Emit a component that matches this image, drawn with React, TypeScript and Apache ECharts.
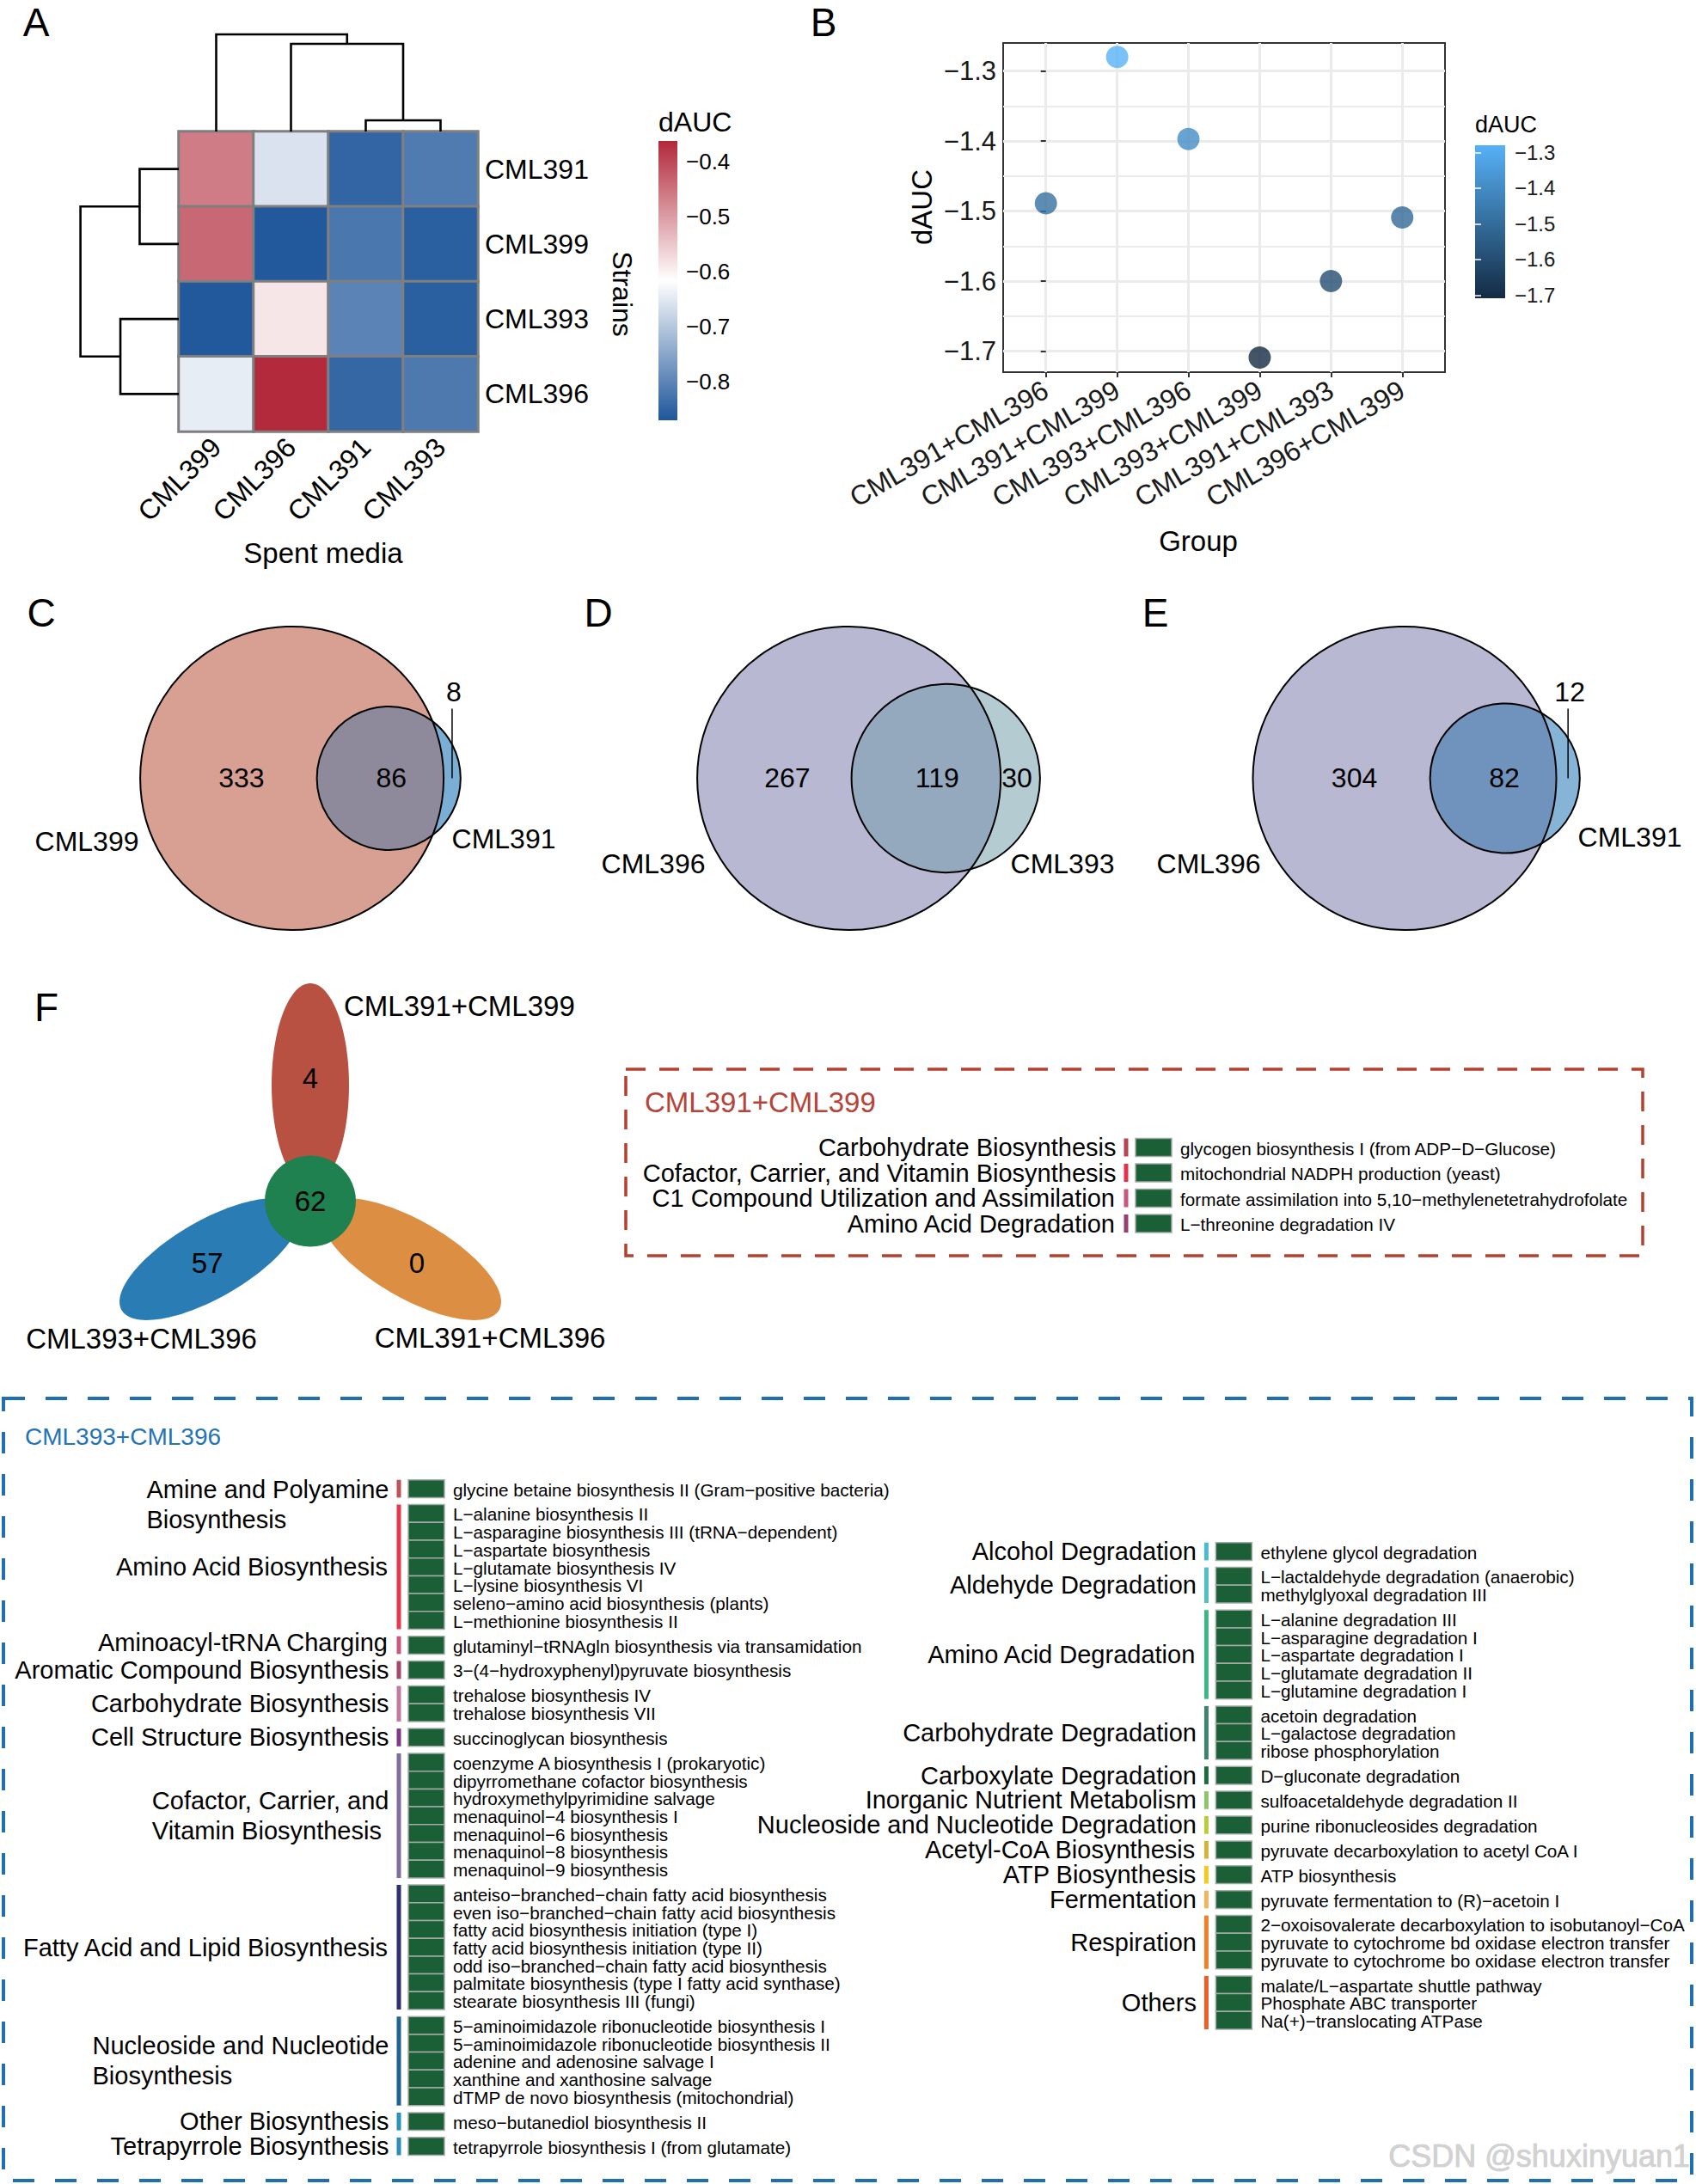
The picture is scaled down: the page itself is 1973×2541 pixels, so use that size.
import React, { useEffect, useRef } from 'react';
import * as echarts from 'echarts';

const W = 1973;
const H = 2541;
const FONT = '"Liberation Sans", Arial, Helvetica, sans-serif';
const MINUS = '\u2212';

// ---------------- Panel A : heatmap ----------------
const heatRows = ['CML391', 'CML399', 'CML393', 'CML396'];
const heatCols = ['CML399', 'CML396', 'CML391', 'CML393'];
const heatValues = [
  [-0.461, -0.660, -0.848, -0.815],
  [-0.438, -0.868, -0.822, -0.858],
  [-0.868, -0.587, -0.803, -0.858],
  [-0.644, -0.364, -0.845, -0.819],
];
const heatRange = [-0.871, -0.362];
const heatColors = ['#1F569B', '#FFFFFF', '#B2283A'];
const heatLegendTicks = [-0.8, -0.7, -0.6, -0.5, -0.4];
// hclust-style merges: negative = leaf (1-based), positive = earlier merge (1-based)
const colMerges = [[-3, -4, 0.115], [-2, 1, 0.903], [-1, 2, 1.0]];
const rowMerges = [[-1, -2, 0.398], [-3, -4, 0.594], [1, 2, 1.0]];

// ---------------- Panel B : scatter ----------------
const groupNames = ['CML391+CML396', 'CML391+CML399', 'CML393+CML396', 'CML393+CML399', 'CML391+CML393', 'CML396+CML399'];
const groupDAUC = [-1.489, -1.280, -1.397, -1.709, -1.600, -1.509];
const dAUCTicks = [-1.7, -1.6, -1.5, -1.4, -1.3];
const dAUCMinor = [-1.65, -1.55, -1.45, -1.35];
const dAUCColors = ['#132B43', '#56B1F7'];

// ---------------- Panels C-E : Venn ----------------
const vennNames = [['CML399', 'CML391'], ['CML396', 'CML393'], ['CML396', 'CML391']];
const vennCounts = [[333, 86, 8], [267, 119, 30], [304, 82, 12]]; // [big only, overlap, small only]
const vennFills = [
  ['#D8A093', '#8E8A9B', '#7AAED5'],
  ['#B8B8D3', '#95A9BE', '#B5CBD2'],
  ['#B8B8D3', '#6F93BC', '#86B4D6'],
];

// ---------------- Panel F : flower ----------------
const petalNames = ['CML391+CML399', 'CML393+CML396', 'CML391+CML396'];
const petalCounts = [4, 57, 0];
const coreCount = 62;
const petalColors = ['#B95142', '#2A7DB4', '#DC8F42'];
const coreColor = '#1F8150';

// ---------------- Tables ----------------
const redCategories = ['Carbohydrate Biosynthesis', 'Cofactor, Carrier, and Vitamin Biosynthesis', 'C1 Compound Utilization and Assimilation', 'Amino Acid Degradation'];
const redPathways = [
  ['glycogen biosynthesis I (from ADP\u2212D\u2212Glucose)'],
  ['mitochondrial NADPH production (yeast)'],
  ['formate assimilation into 5,10\u2212methylenetetrahydrofolate'],
  ['L\u2212threonine degradation IV'],
];
const redBarColors = ['#B84450', '#E6304A', '#C9577A', '#97406C'];

const leftCategories = [
  'Amine and Polyamine\nBiosynthesis',
  'Amino Acid Biosynthesis',
  'Aminoacyl-tRNA Charging',
  'Aromatic Compound Biosynthesis',
  'Carbohydrate Biosynthesis',
  'Cell Structure Biosynthesis',
  'Cofactor, Carrier, and\nVitamin Biosynthesis',
  'Fatty Acid and Lipid Biosynthesis',
  'Nucleoside and Nucleotide\nBiosynthesis',
  'Other Biosynthesis',
  'Tetrapyrrole Biosynthesis',
];
const leftPathways = [
  ['glycine betaine biosynthesis II (Gram\u2212positive bacteria)'],
  ['L\u2212alanine biosynthesis II', 'L\u2212asparagine biosynthesis III (tRNA\u2212dependent)', 'L\u2212aspartate biosynthesis', 'L\u2212glutamate biosynthesis IV', 'L\u2212lysine biosynthesis VI', 'seleno\u2212amino acid biosynthesis (plants)', 'L\u2212methionine biosynthesis II'],
  ['glutaminyl\u2212tRNAgln biosynthesis via transamidation'],
  ['3\u2212(4\u2212hydroxyphenyl)pyruvate biosynthesis'],
  ['trehalose biosynthesis IV', 'trehalose biosynthesis VII'],
  ['succinoglycan biosynthesis'],
  ['coenzyme A biosynthesis I (prokaryotic)', 'dipyrromethane cofactor biosynthesis', 'hydroxymethylpyrimidine salvage', 'menaquinol\u22124 biosynthesis I', 'menaquinol\u22126 biosynthesis', 'menaquinol\u22128 biosynthesis', 'menaquinol\u22129 biosynthesis'],
  ['anteiso\u2212branched\u2212chain fatty acid biosynthesis', 'even iso\u2212branched\u2212chain fatty acid biosynthesis', 'fatty acid biosynthesis initiation (type I)', 'fatty acid biosynthesis initiation (type II)', 'odd iso\u2212branched\u2212chain fatty acid biosynthesis', 'palmitate biosynthesis (type I fatty acid synthase)', 'stearate biosynthesis III (fungi)'],
  ['5\u2212aminoimidazole ribonucleotide biosynthesis I', '5\u2212aminoimidazole ribonucleotide biosynthesis II', 'adenine and adenosine salvage I', 'xanthine and xanthosine salvage', 'dTMP de novo biosynthesis (mitochondrial)'],
  ['meso\u2212butanediol biosynthesis II'],
  ['tetrapyrrole biosynthesis I (from glutamate)'],
];
const leftBarColors = ['#C0505A', '#E5394F', '#C9587A', '#A8456B', '#C37A9F', '#7D3A88', '#7F6DA0', '#2F2F72', '#1E6393', '#2993BD', '#2A8DBC'];

const rightCategories = ['Alcohol Degradation', 'Aldehyde Degradation', 'Amino Acid Degradation', 'Carbohydrate Degradation', 'Carboxylate Degradation', 'Inorganic Nutrient Metabolism', 'Nucleoside and Nucleotide Degradation', 'Acetyl-CoA Biosynthesis', 'ATP Biosynthesis', 'Fermentation', 'Respiration', 'Others'];
const rightPathways = [
  ['ethylene glycol degradation'],
  ['L\u2212lactaldehyde degradation (anaerobic)', 'methylglyoxal degradation III'],
  ['L\u2212alanine degradation III', 'L\u2212asparagine degradation I', 'L\u2212aspartate degradation I', 'L\u2212glutamate degradation II', 'L\u2212glutamine degradation I'],
  ['acetoin degradation', 'L\u2212galactose degradation', 'ribose phosphorylation'],
  ['D\u2212gluconate degradation'],
  ['sulfoacetaldehyde degradation II'],
  ['purine ribonucleosides degradation'],
  ['pyruvate decarboxylation to acetyl CoA I'],
  ['ATP biosynthesis'],
  ['pyruvate fermentation to (R)\u2212acetoin I'],
  ['2\u2212oxoisovalerate decarboxylation to isobutanoyl\u2212CoA', 'pyruvate to cytochrome bd oxidase electron transfer', 'pyruvate to cytochrome bo oxidase electron transfer'],
  ['malate/L\u2212aspartate shuttle pathway', 'Phosphate ABC transporter', 'Na(+)\u2212translocating ATPase'],
];
const rightBarColors = ['#4ABCD0', '#53BFC3', '#3DB584', '#3F8272', '#1E6A3E', '#8DC46A', '#BCCB3C', '#D1B53A', '#F5C922', '#F2B35E', '#EF7F2A', '#EB5E29'];

// ---------------- helpers ----------------
const fmt1 = (v: number) => v.toFixed(1).replace('-', MINUS);
const isTick = (v: number, step: number) => Math.abs(v / step - Math.round(v / step)) < 1e-6;

function dendro(merges: number[][]) {
  const pos: number[] = [];
  const hgt: number[] = [];
  const get = (k: number) => (k < 0 ? [-k - 1, 0] : [pos[k - 1], hgt[k - 1]]);
  return merges.map(([a, b, h]) => {
    const [pa, ha] = get(a);
    const [pb, hb] = get(b);
    pos.push((pa + pb) / 2);
    hgt.push(h);
    return [pa, ha, pb, hb, h];
  });
}

function overlapArea(R: number, r: number, d: number) {
  if (d >= R + r) return 0;
  if (d <= Math.abs(R - r)) return Math.PI * Math.min(R, r) ** 2;
  const a1 = R * R * Math.acos((d * d + R * R - r * r) / (2 * d * R));
  const a2 = r * r * Math.acos((d * d + r * r - R * R) / (2 * d * r));
  const a3 = 0.5 * Math.sqrt((-d + R + r) * (d + R - r) * (d - R + r) * (d + R + r));
  return a1 + a2 - a3;
}
function solveDistance(R: number, r: number, target: number) {
  let lo = Math.abs(R - r) + 1e-9;
  let hi = R + r;
  for (let i = 0; i < 80; i++) {
    const mid = (lo + hi) / 2;
    if (overlapArea(R, r, mid) > target) lo = mid; else hi = mid;
  }
  return (lo + hi) / 2;
}

function layoutTable(pathways: string[][], gap: number) {
  const rows: number[][] = [];
  const texts: string[] = [];
  const groups: number[][] = [];
  let cur = 0;
  pathways.forEach((list, g) => {
    const start = cur;
    list.forEach((t) => { rows.push([0, cur, g]); texts.push(t); cur += 1; });
    groups.push([0, start, cur, g]);
    cur += gap;
  });
  return { rows, texts, groups, total: cur - gap };
}

// layout constants (pixels)
const VENN_CENTERS = [[339.6, 905.5], [987.6, 905.5], [1634, 905.5]];
const VENN_R_PX = 176.5;
const VENN_LABEL_OFFSETS = [
  [[-238.6, 73.5], [246.4, 70.5]],
  [[-227.6, 99.5], [248.4, 99.5]],
  [[-228, 99.5], [262, 68.5]],
];
const FLOWER_CENTER = [361, 1397.5];
const FLOWER_SCALE = 260;
const PETAL_NAME_OFFSETS = [[39, -227.5, 'left'], [-196.5, 159.5, 'center'], [209, 158.5, 'center']];

function buildOption() {
  const grid: any[] = [];
  const xAxis: any[] = [];
  const yAxis: any[] = [];
  const series: any[] = [];
  const visualMap: any[] = [];
  const graphic: any[] = [];
  const off = { show: false };
  const addGrid = (g: any) => { grid.push({ containLabel: false, outerBoundsMode: 'none', ...g }); return grid.length - 1; };
  const addX = (a: any) => { xAxis.push(a); return xAxis.length - 1; };
  const addY = (a: any) => { yAxis.push(a); return yAxis.length - 1; };
  const hiddenVal = (gi: number, min: number, max: number, inverse = false) => ({ gridIndex: gi, type: 'value', min, max, inverse, show: false, splitLine: off, axisLine: off, axisTick: off, axisLabel: off });
  const txt = (text: string, x: number, y: number, fontSize: number, extra: any = {}, style: any = {}) => {
    graphic.push({ type: 'text', x, y, silent: true, ...extra, style: { text, fontSize, fontFamily: FONT, fill: '#000', align: 'center', verticalAlign: 'middle', ...style } });
  };

  // ===== Panel A heatmap =====
  const gA = addGrid({ left: 208, top: 153, width: 348, height: 349 });
  const xA = addX({ gridIndex: gA, type: 'category', data: heatCols, position: 'bottom', axisLine: off, axisTick: off, splitLine: off, axisLabel: { interval: 0, rotate: 45, fontSize: 32, fontFamily: FONT, color: '#000', margin: 13 } });
  const yA = addY({ gridIndex: gA, type: 'category', data: heatRows, inverse: true, position: 'right', axisLine: off, axisTick: off, splitLine: off, axisLabel: { interval: 0, fontSize: 32, fontFamily: FONT, color: '#000', margin: 8 } });
  const heatData: number[][] = [];
  heatValues.forEach((row, r) => row.forEach((v, c) => heatData.push([c, r, v])));
  series.push({ type: 'heatmap', xAxisIndex: xA, yAxisIndex: yA, data: heatData, itemStyle: { borderColor: '#7F7F7F', borderWidth: 3 }, emphasis: { disabled: true }, z: 2 });
  visualMap.push({ type: 'continuous', show: false, seriesIndex: series.length - 1, dimension: 2, min: heatRange[0], max: heatRange[1], inRange: { color: heatColors } });

  // column dendrogram
  const gCD = addGrid({ left: 208, top: 40, width: 348, height: 113 });
  const xCD = addX(hiddenVal(gCD, -0.5, 3.5));
  const yCD = addY(hiddenVal(gCD, 0, 1));
  series.push({
    type: 'custom', xAxisIndex: xCD, yAxisIndex: yCD, data: dendro(colMerges), silent: true, clip: false,
    renderItem: (_p: any, api: any) => {
      const [pa, ha, pb, hb, h] = [0, 1, 2, 3, 4].map((i) => api.value(i));
      return { type: 'polyline', shape: { points: [api.coord([pa, ha]), api.coord([pa, h]), api.coord([pb, h]), api.coord([pb, hb])] }, style: { stroke: '#000', lineWidth: 2.6, fill: null } };
    },
  });
  // row dendrogram
  const gRD = addGrid({ left: 93.6, top: 153, width: 114.4, height: 349 });
  const xRD = addX(hiddenVal(gRD, 0, 1, true));
  const yRD = addY(hiddenVal(gRD, -0.5, 3.5, true));
  series.push({
    type: 'custom', xAxisIndex: xRD, yAxisIndex: yRD, data: dendro(rowMerges), silent: true, clip: false,
    renderItem: (_p: any, api: any) => {
      const [pa, ha, pb, hb, h] = [0, 1, 2, 3, 4].map((i) => api.value(i));
      return { type: 'polyline', shape: { points: [api.coord([ha, pa]), api.coord([h, pa]), api.coord([h, pb]), api.coord([hb, pb])] }, style: { stroke: '#000', lineWidth: 2.6, fill: null } };
    },
  });

  // heatmap legend bar
  const gAL = addGrid({ left: 766, top: 164, width: 22, height: 325 });
  const xAL = addX(hiddenVal(gAL, 0, 1));
  const yAL = addY({ gridIndex: gAL, type: 'value', min: heatRange[0], max: heatRange[1], position: 'right', z: 10, axisLine: off, axisTick: { show: false, customValues: heatLegendTicks }, splitLine: off, axisLabel: { customValues: heatLegendTicks, fontSize: 26, fontFamily: FONT, color: '#000', margin: 10, formatter: (v: number) => (isTick(v, 0.1) ? fmt1(v) : '') } });
  series.push({
    type: 'custom', xAxisIndex: xAL, yAxisIndex: yAL, data: [[0, heatRange[0], 1, heatRange[1]]], silent: true,
    renderItem: (_p: any, api: any) => {
      const a = api.coord([api.value(0), api.value(3)]);
      const b = api.coord([api.value(2), api.value(1)]);
      return { type: 'rect', shape: { x: a[0], y: a[1], width: b[0] - a[0], height: b[1] - a[1] }, style: { fill: new echarts.graphic.LinearGradient(0, 0, 0, 1, [{ offset: 0, color: heatColors[2] }, { offset: 0.5, color: heatColors[1] }, { offset: 1, color: heatColors[0] }]) } };
    },
  });

  txt('A', 42, 26, 46);
  txt('Spent media', 376, 643, 33);
  txt('Strains', 724, 342, 32, { rotation: -Math.PI / 2 });
  txt('dAUC', 766, 142, 32, {}, { align: 'left' });

  // ===== Panel B scatter =====
  const gB = addGrid({ left: 1167, top: 50, width: 514, height: 383, show: true, borderColor: '#333333', borderWidth: 2, backgroundColor: 'transparent' });
  const groupIdx = groupNames.map((_g, i) => i);
  const xB = addX({
    gridIndex: gB, type: 'value', min: -0.6, max: 5.6, axisLine: off,
    axisTick: { show: true, length: 6, lineStyle: { color: '#333', width: 2 }, customValues: groupIdx },
    axisLabel: { customValues: groupIdx, rotate: 30, fontSize: 32, fontFamily: FONT, color: '#1a1a1a', margin: 18, formatter: (v: number) => (isTick(v, 1) ? groupNames[Math.round(v)] ?? '' : '') },
    splitLine: { show: true, lineStyle: { color: '#EBEBEB', width: 3 } },
  });
  const yB = addY({
    gridIndex: gB, type: 'value', min: -1.73, max: -1.26, axisLine: off,
    axisTick: { show: true, length: 6, lineStyle: { color: '#333', width: 2 }, customValues: dAUCTicks },
    axisLabel: { customValues: dAUCTicks, fontSize: 31, fontFamily: FONT, color: '#1a1a1a', margin: 8, formatter: (v: number) => (isTick(v, 0.1) ? fmt1(v) : '') },
    splitLine: { show: true, lineStyle: { color: '#EBEBEB', width: 3 } },
  });
  series.push({
    type: 'scatter', xAxisIndex: xB, yAxisIndex: yB, symbolSize: 26, z: 5,
    data: groupDAUC.map((v, i) => [i, v]),
    markLine: { silent: true, symbol: ['none', 'none'], label: { show: false }, lineStyle: { color: '#EBEBEB', width: 2, type: 'solid' }, data: dAUCMinor.map((v) => ({ yAxis: v })), z: 1 },
  });
  visualMap.push({ type: 'continuous', show: false, seriesIndex: series.length - 1, dimension: 1, min: Math.min(...groupDAUC), max: Math.max(...groupDAUC), inRange: { color: dAUCColors } });

  // scatter legend bar
  const gBL = addGrid({ left: 1716, top: 169, width: 35, height: 178 });
  const xBL = addX(hiddenVal(gBL, 0, 1));
  const bMin = Math.min(...groupDAUC);
  const bMax = Math.max(...groupDAUC);
  const yBL = addY({ gridIndex: gBL, type: 'value', min: bMin, max: bMax, position: 'right', z: 10, axisLine: off, splitLine: off, axisTick: { show: true, inside: true, length: 7, lineStyle: { color: '#fff', width: 1.5 }, customValues: dAUCTicks }, axisLabel: { customValues: dAUCTicks, fontSize: 24, fontFamily: FONT, color: '#1a1a1a', margin: 11, formatter: (v: number) => (isTick(v, 0.1) ? fmt1(v) : '') } });
  addY({ gridIndex: gBL, type: 'value', min: bMin, max: bMax, position: 'left', z: 10, axisLine: off, splitLine: off, axisLabel: off, axisTick: { show: true, inside: true, length: 7, lineStyle: { color: '#fff', width: 1.5 }, customValues: dAUCTicks } });
  series.push({
    type: 'custom', xAxisIndex: xBL, yAxisIndex: yBL, data: [[0, bMin, 1, bMax]], silent: true, z: 2,
    renderItem: (_p: any, api: any) => {
      const a = api.coord([api.value(0), api.value(3)]);
      const b = api.coord([api.value(2), api.value(1)]);
      return { type: 'rect', shape: { x: a[0], y: a[1], width: b[0] - a[0], height: b[1] - a[1] }, style: { fill: new echarts.graphic.LinearGradient(0, 0, 0, 1, [{ offset: 0, color: dAUCColors[1] }, { offset: 1, color: dAUCColors[0] }]) } };
    },
  });

  txt('B', 958, 26, 46);
  txt('dAUC', 1072, 241, 33, { rotation: Math.PI / 2 });
  txt('Group', 1394, 629, 33);
  txt('dAUC', 1716, 145, 27, {}, { align: 'left' });

  // ===== Panels C-E Venn =====
  ['C', 'D', 'E'].forEach((letter, k) => txt(letter, [48, 696, 1344][k], 713, 46));
  vennCounts.forEach((counts, k) => {
    const [a, b, c] = counts;
    const R = Math.sqrt((a + b) / Math.PI);
    const r = Math.sqrt((b + c) / Math.PI);
    const d = solveDistance(R, r, b);
    const s = VENN_R_PX / R;
    const [cx, cy] = VENN_CENTERS[k];
    const gw = 470;
    const gi = addGrid({ left: cx - VENN_R_PX, top: cy - VENN_R_PX, width: gw, height: 2 * VENN_R_PX });
    const xi = addX(hiddenVal(gi, -R, -R + gw / s));
    const yi = addY(hiddenVal(gi, -R, R));
    const fills = vennFills[k];
    const names = vennNames[k];
    const offs = VENN_LABEL_OFFSETS[k];
    series.push({
      type: 'custom', xAxisIndex: xi, yAxisIndex: yi, data: [[0, 0]], silent: true, clip: false,
      renderItem: (_p: any, api: any) => {
        const pc = api.coord([0, 0]);
        const sc = api.coord([d, 0]);
        const Rp = api.size([R, 0])[0];
        const rp = api.size([r, 0])[0];
        const x0 = (d * d + R * R - r * r) / (2 * d);
        const y0 = Math.sqrt(Math.max(R * R - x0 * x0, 0));
        const thB = Math.atan2(y0, x0);
        const thS = Math.atan2(y0, x0 - d);
        const lens: number[][] = [];
        const N = 90;
        for (let i = 0; i <= N; i++) { const t = -thB + (2 * thB * i) / N; lens.push(api.coord([R * Math.cos(t), R * Math.sin(t)])); }
        for (let i = 0; i <= N; i++) { const t = thS + ((2 * Math.PI - 2 * thS) * i) / N; lens.push(api.coord([d + r * Math.cos(t), r * Math.sin(t)])); }
        const numStyle = { fontSize: 32, fontFamily: FONT, fill: '#000', align: 'center', verticalAlign: 'middle' };
        const bigOnlyX = api.coord([(-R + (d - r)) / 2, 0])[0] + 15;
        const overlapX = api.coord([((d - r) + R) / 2, 0])[0] + 13;
        const crescentPx = (d + r - R) * (Rp / R);
        const children: any[] = [
          { type: 'circle', shape: { cx: sc[0], cy: sc[1], r: rp }, style: { fill: fills[2] } },
          { type: 'circle', shape: { cx: pc[0], cy: pc[1], r: Rp }, style: { fill: fills[0] } },
          { type: 'polygon', shape: { points: lens }, style: { fill: fills[1] } },
          { type: 'circle', shape: { cx: pc[0], cy: pc[1], r: Rp }, style: { fill: null, stroke: '#000', lineWidth: 2 } },
          { type: 'circle', shape: { cx: sc[0], cy: sc[1], r: rp }, style: { fill: null, stroke: '#000', lineWidth: 2 } },
          { type: 'text', style: { ...numStyle, text: String(a), x: bigOnlyX, y: pc[1] - 1 } },
          { type: 'text', style: { ...numStyle, text: String(b), x: overlapX, y: pc[1] - 1 } },
        ];
        if (crescentPx > 45) {
          const x = api.coord([(R + d + r) / 2, 0])[0] - 4;
          children.push({ type: 'text', style: { ...numStyle, text: String(c), x, y: pc[1] - 1 } });
        } else {
          const x = (pc[0] + Rp + sc[0] + rp) / 2;
          children.push({ type: 'line', shape: { x1: x, y1: pc[1], x2: x, y2: pc[1] - 81 }, style: { stroke: '#000', lineWidth: 1.5 } });
          children.push({ type: 'text', style: { ...numStyle, text: String(c), x: x + 2, y: pc[1] - 101 } });
        }
        children.push({ type: 'text', style: { ...numStyle, text: names[0], x: pc[0] + offs[0][0], y: pc[1] + offs[0][1] } });
        children.push({ type: 'text', style: { ...numStyle, text: names[1], x: pc[0] + offs[1][0], y: pc[1] + offs[1][1] } });
        return { type: 'group', children };
      },
    });
  });

  // ===== Panel F flower =====
  txt('F', 54, 1172, 46);
  const gF = addGrid({ left: FLOWER_CENTER[0] - FLOWER_SCALE, top: FLOWER_CENTER[1] - FLOWER_SCALE, width: 2 * FLOWER_SCALE, height: 2 * FLOWER_SCALE });
  const xF = addX(hiddenVal(gF, -1, 1));
  const yF = addY(hiddenVal(gF, -1, 1));
  const petalDist = 135 / FLOWER_SCALE;
  const petalA = 118.5 / FLOWER_SCALE;
  const petalB = 45 / FLOWER_SCALE;
  series.push({
    type: 'custom', xAxisIndex: xF, yAxisIndex: yF, data: petalCounts.map((v, i) => [i, v]), silent: true, clip: false, z: 2,
    renderItem: (params: any, api: any) => {
      const i = params.dataIndex;
      const th = ((90 + 120 * i) * Math.PI) / 180;
      const ux = Math.cos(th), uy = Math.sin(th);
      const pts: number[][] = [];
      for (let k = 0; k < 120; k++) {
        const t = (2 * Math.PI * k) / 120;
        const ea = petalA * Math.cos(t), eb = petalB * Math.sin(t);
        pts.push(api.coord([petalDist * ux + ea * ux - eb * uy, petalDist * uy + ea * uy + eb * ux]));
      }
      const lp = api.coord([0.55 * ux, 0.55 * uy]);
      const cc = api.coord([0, 0]);
      const no = PETAL_NAME_OFFSETS[i];
      return {
        type: 'group', children: [
          { type: 'polygon', shape: { points: pts }, style: { fill: petalColors[i] } },
          { type: 'text', style: { text: String(api.value(1)), x: lp[0] + (i === 1 ? 4 : 0), y: lp[1], fontSize: 33, fontFamily: FONT, fill: '#000', align: 'center', verticalAlign: 'middle' } },
          { type: 'text', style: { text: petalNames[i], x: cc[0] + (no[0] as number), y: cc[1] + (no[1] as number), fontSize: 33, fontFamily: FONT, fill: '#000', align: no[2], verticalAlign: 'middle' } },
        ],
      };
    },
  });
  series.push({
    type: 'custom', xAxisIndex: xF, yAxisIndex: yF, data: [[0, 0, coreCount]], silent: true, clip: false, z: 3,
    renderItem: (_p: any, api: any) => {
      const c = api.coord([0, 0]);
      const rr = api.size([53 / FLOWER_SCALE, 0])[0];
      return {
        type: 'group', children: [
          { type: 'circle', shape: { cx: c[0], cy: c[1], r: rr }, style: { fill: coreColor } },
          { type: 'text', style: { text: String(api.value(2)), x: c[0], y: c[1], fontSize: 33, fontFamily: FONT, fill: '#000', align: 'center', verticalAlign: 'middle' } },
        ],
      };
    },
  });

  // ===== Tables =====
  const CELL_FILL = '#1A5F36';
  const CELL_STROKE = '#A3AAA5';
  const addTable = (pathways: string[][], categories: string[], barColors: string[], left: number, top: number, rowPx: number, gapPx: number, nudge: number[]) => {
    const L = layoutTable(pathways, gapPx / rowPx);
    const gi = addGrid({ left, top, width: 42, height: L.total * rowPx });
    const xi = addX(hiddenVal(gi, 0, 1));
    const yi = addY(hiddenVal(gi, 0, L.total, true));
    series.push({
      type: 'custom', xAxisIndex: xi, yAxisIndex: yi, data: L.rows, silent: true, clip: false,
      renderItem: (params: any, api: any) => {
        const pos = api.value(1);
        const a = api.coord([0, pos]);
        const b = api.coord([1, pos + 1]);
        return {
          type: 'group', children: [
            { type: 'rect', shape: { x: a[0], y: a[1], width: b[0] - a[0], height: b[1] - a[1] }, style: { fill: CELL_FILL, stroke: CELL_STROKE, lineWidth: 1.5 } },
            { type: 'text', style: { text: L.texts[params.dataIndex], x: b[0] + 10, y: (a[1] + b[1]) / 2 + 1, fill: '#000', fontSize: 20.7, fontFamily: FONT, align: 'left', verticalAlign: 'middle' } },
          ],
        };
      },
    });
    series.push({
      type: 'custom', xAxisIndex: xi, yAxisIndex: yi, data: L.groups, silent: true, clip: false,
      renderItem: (_p: any, api: any) => {
        const s = api.value(1), e = api.value(2), g = api.value(3);
        const a = api.coord([0, s]);
        const b = api.coord([0, e]);
        const rich = categories[g].split('\n').map((l) => `{t|${l}}`).join('\n');
        return {
          type: 'group', children: [
            { type: 'rect', shape: { x: a[0] - 13.5, y: a[1], width: 5, height: b[1] - a[1] }, style: { fill: barColors[g] } },
            { type: 'text', style: { text: rich, rich: { t: { fontSize: 29, fontFamily: FONT, fill: '#000', align: 'left', lineHeight: 35 } }, x: a[0] - 22.5, y: (a[1] + b[1]) / 2 + (nudge[g] || 0), align: 'right', verticalAlign: 'middle' } },
          ],
        };
      },
    });
  };
  addTable(redPathways, redCategories, redBarColors, 1321, 1324.5, 21, 8.5, []);
  addTable(leftPathways, leftCategories, leftBarColors, 475, 1721.7, 20.7, 8.2, [18, 0, -3]);
  addTable(rightPathways, rightCategories, rightBarColors, 1414.4, 1794.7, 20.7, 8.2, []);

  // boxes & titles
  graphic.push({ type: 'rect', silent: true, shape: { x: 728, y: 1244, width: 1183, height: 217 }, style: { fill: null, stroke: '#B5402F', lineWidth: 3.5, lineDash: [23, 16] } });
  txt('CML391+CML399', 750, 1282, 33, {}, { align: 'left', fill: '#B5443A' });
  graphic.push({ type: 'rect', silent: true, shape: { x: 4, y: 1627, width: 1964, height: 910 }, style: { fill: null, stroke: '#1F6FB2', lineWidth: 4, lineDash: [25, 24] } });
  txt('CML393+CML396', 29, 1671, 28, {}, { align: 'left', fill: '#2474B5' });
  txt('CSDN @shuxinyuan1', 1966, 2508, 36, {}, { align: 'right', fill: '#D2D2D2', stroke: '#B8B8B8', lineWidth: 0.6 });

  return { animation: false, backgroundColor: '#fff', grid, xAxis, yAxis, series, visualMap, graphic, tooltip: { show: false } };
}

export default function App() {
  const ref = useRef<HTMLDivElement>(null);
  useEffect(() => {
    if (!ref.current) return;
    const chart = echarts.init(ref.current, null, { renderer: 'svg', width: W, height: H });
    chart.setOption(buildOption());
    return () => chart.dispose();
  }, []);
  return <div ref={ref} style={{ position: 'absolute', left: 0, top: 0, width: W, height: H, background: '#fff' }} />;
}
